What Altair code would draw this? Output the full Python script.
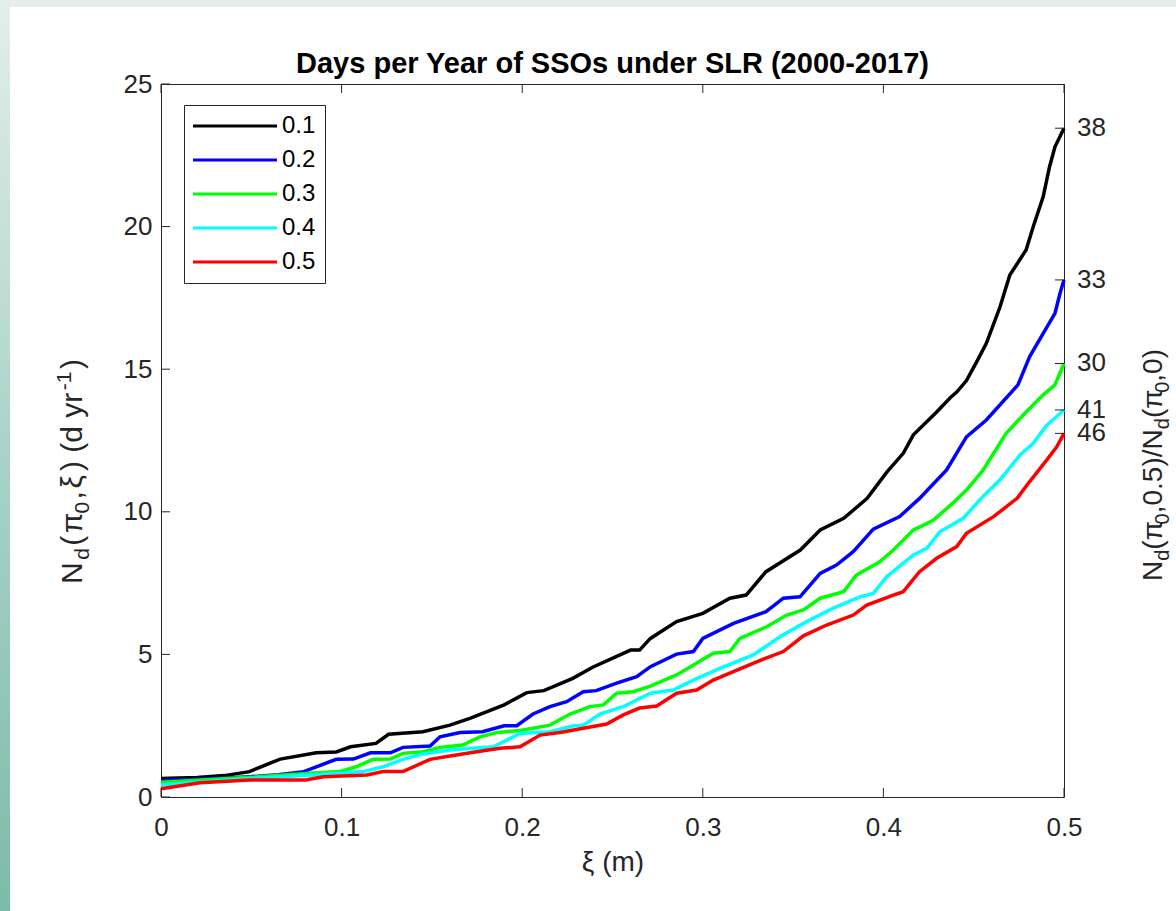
import altair as alt
import pandas as pd

FONT = "Liberation Sans"
AXC = "#262626"

# ---------------- data ----------------
series_names = ["0.1", "0.2", "0.3", "0.4", "0.5"]
series_colors = ["#000000", "#0000ff", "#00ff00", "#00ffff", "#ff0000"]
ratio_labels = ["38", "33", "30", "41", "46"]
x_ticks = [0, 0.1, 0.2, 0.3, 0.4, 0.5]
y_ticks = [0, 5, 10, 15, 20, 25]

x_01 = [0.0, 0.02, 0.035, 0.049, 0.055, 0.066, 0.086, 0.097, 0.105, 0.119, 0.126, 0.145, 0.16, 0.171, 0.19, 0.2025,
        0.212, 0.228, 0.239, 0.26, 0.265, 0.271, 0.2855, 0.3, 0.315, 0.324, 0.335, 0.354, 0.365, 0.378, 0.391, 0.402,
        0.411, 0.4166, 0.4295, 0.437, 0.4406, 0.446, 0.452, 0.457, 0.4646, 0.47, 0.479, 0.483, 0.4885, 0.492, 0.495, 0.5]
y_01 = [0.65, 0.68, 0.75, 0.89, 1.05, 1.33, 1.55, 1.58, 1.76, 1.88, 2.2, 2.29, 2.52, 2.76, 3.23, 3.66,
        3.73, 4.16, 4.55, 5.15, 5.15, 5.56, 6.15, 6.44, 6.97, 7.08, 7.9, 8.66, 9.36, 9.77, 10.47, 11.4,
        12.05, 12.7, 13.5, 14.0, 14.2, 14.6, 15.3, 15.91, 17.19, 18.3, 19.18, 20.0, 21.05, 22.1, 22.8, 23.45]

x_02 = [0.0, 0.03, 0.049, 0.065, 0.079, 0.086, 0.097, 0.1065, 0.116, 0.127, 0.134, 0.149, 0.1545, 0.1656, 0.178,
        0.19, 0.197, 0.206, 0.2154, 0.2246, 0.2338, 0.241, 0.2523, 0.2634, 0.271, 0.2855, 0.2948, 0.3, 0.317,
        0.335, 0.3446, 0.3538, 0.365, 0.374, 0.3833, 0.3944, 0.409, 0.42, 0.435, 0.446, 0.457, 0.4745, 0.481,
        0.4885, 0.495, 0.4978, 0.5]
y_02 = [0.58, 0.65, 0.71, 0.78, 0.89, 1.06, 1.32, 1.33, 1.55, 1.55, 1.74, 1.79, 2.11, 2.26, 2.29,
        2.5, 2.5, 2.91, 3.17, 3.34, 3.69, 3.73, 3.99, 4.22, 4.57, 5.01, 5.1, 5.56, 6.09,
        6.5, 6.97, 7.02, 7.84, 8.13, 8.6, 9.39, 9.83, 10.47, 11.47, 12.63, 13.22, 14.45, 15.44,
        16.26, 16.96, 17.66, 18.13]

x_03 = [0.0, 0.049, 0.0825, 0.099, 0.108, 0.1176, 0.127, 0.134, 0.145, 0.1545, 0.167, 0.1766, 0.186, 0.1988,
        0.2154, 0.2265, 0.2375, 0.245, 0.2523, 0.2615, 0.271, 0.2855, 0.3058, 0.315, 0.3206, 0.3354, 0.3465,
        0.3557, 0.365, 0.378, 0.385, 0.398, 0.4055, 0.4166, 0.4276, 0.4387, 0.446, 0.455, 0.468, 0.479, 0.4885,
        0.495, 0.5]
y_03 = [0.52, 0.69, 0.83, 0.89, 1.06, 1.32, 1.33, 1.53, 1.59, 1.74, 1.82, 2.11, 2.26, 2.33,
        2.52, 2.91, 3.17, 3.23, 3.64, 3.69, 3.89, 4.28, 5.04, 5.1, 5.56, 5.97, 6.38,
        6.56, 6.97, 7.2, 7.78, 8.25, 8.66, 9.36, 9.7, 10.32, 10.76, 11.44, 12.75, 13.5, 14.1,
        14.45, 15.2]

x_04 = [0.0, 0.049, 0.084, 0.112, 0.123, 0.134, 0.145, 0.16, 0.184, 0.1988, 0.2154, 0.228, 0.234, 0.243, 0.256,
        0.2615, 0.271, 0.2836, 0.2948, 0.3095, 0.328, 0.3427, 0.3575, 0.3723, 0.387, 0.3944, 0.4018, 0.4166,
        0.424, 0.4313, 0.4442, 0.455, 0.4646, 0.4756, 0.483, 0.4905, 0.5]
y_04 = [0.42, 0.65, 0.77, 0.89, 1.06, 1.32, 1.51, 1.65, 1.76, 2.23, 2.29, 2.49, 2.52, 2.91, 3.17,
        3.34, 3.64, 3.75, 4.1, 4.51, 4.98, 5.62, 6.15, 6.62, 7.02, 7.14, 7.72, 8.49,
        8.72, 9.3, 9.77, 10.53, 11.12, 11.99, 12.4, 13.04, 13.57]

x_05 = [0.0, 0.0216, 0.049, 0.08, 0.09, 0.114, 0.123, 0.134, 0.149, 0.16, 0.1748, 0.1877, 0.1988, 0.2099, 0.221,
        0.2338, 0.2468, 0.256, 0.265, 0.2745, 0.2855, 0.2966, 0.3058, 0.3298, 0.3446, 0.3557, 0.3686, 0.3833,
        0.3908, 0.4055, 0.411, 0.42, 0.4295, 0.4406, 0.446, 0.461, 0.474, 0.481, 0.4905, 0.496, 0.5]
y_05 = [0.29, 0.5, 0.6, 0.6, 0.71, 0.77, 0.89, 0.89, 1.32, 1.44, 1.59, 1.71, 1.76, 2.17, 2.26,
        2.41, 2.56, 2.88, 3.12, 3.19, 3.64, 3.75, 4.1, 4.74, 5.1, 5.65, 6.03, 6.38,
        6.73, 7.08, 7.2, 7.9, 8.37, 8.78, 9.25, 9.83, 10.47, 11.06, 11.82, 12.28, 12.75]

all_x = [x_01, x_02, x_03, x_04, x_05]
all_y = [y_01, y_02, y_03, y_04, y_05]

rows = []
for name, xs, ys in zip(series_names, all_x, all_y):
    for i, (a, b) in enumerate(zip(xs, ys)):
        rows.append({"xi": a, "nd": b, "pi0": name, "ord": i})
df = pd.DataFrame(rows)

ends = pd.DataFrame({"xi": [xs[-1] for xs in all_x], "nd": [ys[-1] for ys in all_y], "lab": ratio_labels})
xt = pd.DataFrame({"xi": x_ticks})
yt = pd.DataFrame({"nd": y_ticks})
one = pd.DataFrame({"k": [0]})

# ---------------- layout ----------------
W, H = 903, 713
PL, PT, PR, PB = 161, 84, 112, 114
TK = 9

xscale = alt.Scale(domain=[0, 0.5], nice=False, zero=False)
yscale = alt.Scale(domain=[0, 25], nice=False, zero=False)
X_AX = alt.Axis(values=x_ticks, format="~g", title="ξ (m)", labelPadding=17, titlePadding=8,
                labelFlush=False)
Y_AX = alt.Axis(values=y_ticks, title="", labelPadding=9)


def X(f="xi:Q"):
    return alt.X(f, scale=xscale, axis=X_AX)


def Y(f="nd:Q"):
    return alt.Y(f, scale=yscale, axis=Y_AX)


lines = alt.Chart(df).mark_line(strokeWidth=3.5).encode(
    x=X(), y=Y(),
    color=alt.Color("pi0:N", scale=alt.Scale(domain=series_names, range=series_colors),
                    legend=alt.Legend(orient="none", legendX=23, legendY=21, title=None,
                                      symbolType="M-4,0H4", symbolSize=441, symbolStrokeWidth=3,
                                      symbolOffset=30, labelOffset=35, labelFontSize=24,
                                      labelFont=FONT, labelColor="#000000", padding=9,
                                      rowPadding=10, strokeColor=AXC, fillColor="white")),
    order="ord:Q",
)

tick_rule = dict(color=AXC, strokeWidth=1)
bottom_ticks = alt.Chart(xt).mark_rule(**tick_rule).encode(x=X(), y=alt.value(H), y2=alt.value(H - TK))
top_ticks = alt.Chart(xt).mark_rule(**tick_rule).encode(x=X(), y=alt.value(0), y2=alt.value(TK))
left_ticks = alt.Chart(yt).mark_rule(**tick_rule).encode(y=Y(), x=alt.value(0), x2=alt.value(TK))
right_ticks = alt.Chart(ends).mark_rule(**tick_rule).encode(y=Y(), x=alt.value(W - TK), x2=alt.value(W))
right_labels = alt.Chart(ends).mark_text(align="left", baseline="middle", dx=13, fontSize=26,
                                         font=FONT, color=AXC).encode(x=X(), y=Y(), text="lab:N")

# decorative page frame (teal band on top, gradient strip on the left)
top_band = alt.Chart(one).mark_rect(color="#e4eeec").encode(
    x=alt.value(-PL), x2=alt.value(W + PR), y=alt.value(-PT), y2=alt.value(-PT + 7))
left_strip = alt.Chart(one).mark_rect(
    color=alt.Gradient(gradient="linear", x1=0, x2=0, y1=0, y2=1,
                       stops=[alt.GradientStop(color="#e4eeec", offset=0),
                              alt.GradientStop(color="#a9d3c8", offset=0.5),
                              alt.GradientStop(color="#7cbba9", offset=1)])).encode(
    x=alt.value(-PL), x2=alt.value(-PL + 10), y=alt.value(-PT), y2=alt.value(H + PB))

# chart title as a text mark
title = alt.Chart(one).mark_text(text="Days per Year of SSOs under SLR (2000-2017)", align="center",
                                 baseline="alphabetic", fontSize=29, fontWeight="bold", font=FONT,
                                 color="#000000").encode(x=alt.value(W / 2), y=alt.value(-11))

# composite rotated axis titles with sub/superscripts
WID = {'N': .722, 'd': .556, '(': .333, ')': .333, 'π': .57, 'ξ': .5, ',': .278, '.': .278, ' ': .278,
       'y': .5, 'r': .333, '-': .333, '0': .556, '1': .556, '5': .556, '/': .278}


def rotated_title(pieces, base_x, start_y, main, sub, gap=0.0):
    layers = []
    y = start_y
    for txt, kind in pieces:
        fs = main if kind == 0 else sub
        dx = 0 if kind == 0 else (7 if kind == 1 else -11)
        layers.append(alt.Chart(one).mark_text(text=txt, angle=270, align="left", baseline="alphabetic",
                                               fontSize=fs, font=FONT, color=AXC).encode(
            x=alt.value(base_x + dx), y=alt.value(y)))
        y -= sum(WID.get(c, 0.55) for c in txt) * fs + gap
    return layers


left_title = rotated_title([("N", 0), ("d", 1), ("(", 0), ("π", 0), ("0", 1), (",", 0), ("ξ", 0),
                            (") (d yr", 0), ("-1", 2), (")", 0)],
                           -79, 500, 30, 21, gap=2.5)
right_title = rotated_title([("N", 0), ("d", 1), ("(π", 0), ("0", 1), (",0.5)/N", 0), ("d", 1), ("(π", 0),
                             ("0", 1), (",0)", 0)], W + 98, 497, 28, 20)

chart = alt.layer(
    top_band, left_strip, lines, bottom_ticks, top_ticks, left_ticks, right_ticks, right_labels,
    title, *left_title, *right_title
).properties(
    width=W, height=H,
    autosize=alt.AutoSizeParams(type="none"),
    padding={"left": PL, "top": PT, "right": PR, "bottom": PB},
    background="white",
).configure_view(
    stroke=AXC, strokeWidth=1
).configure_axis(
    labelFont=FONT, labelFontSize=26, labelColor=AXC, domain=False, ticks=False, tickSize=0, grid=False,
    titleFont=FONT, titleFontSize=28, titleColor=AXC, titleFontWeight="normal"
)

chart.save("out.html", embed_options={"renderer": "svg", "actions": False})
